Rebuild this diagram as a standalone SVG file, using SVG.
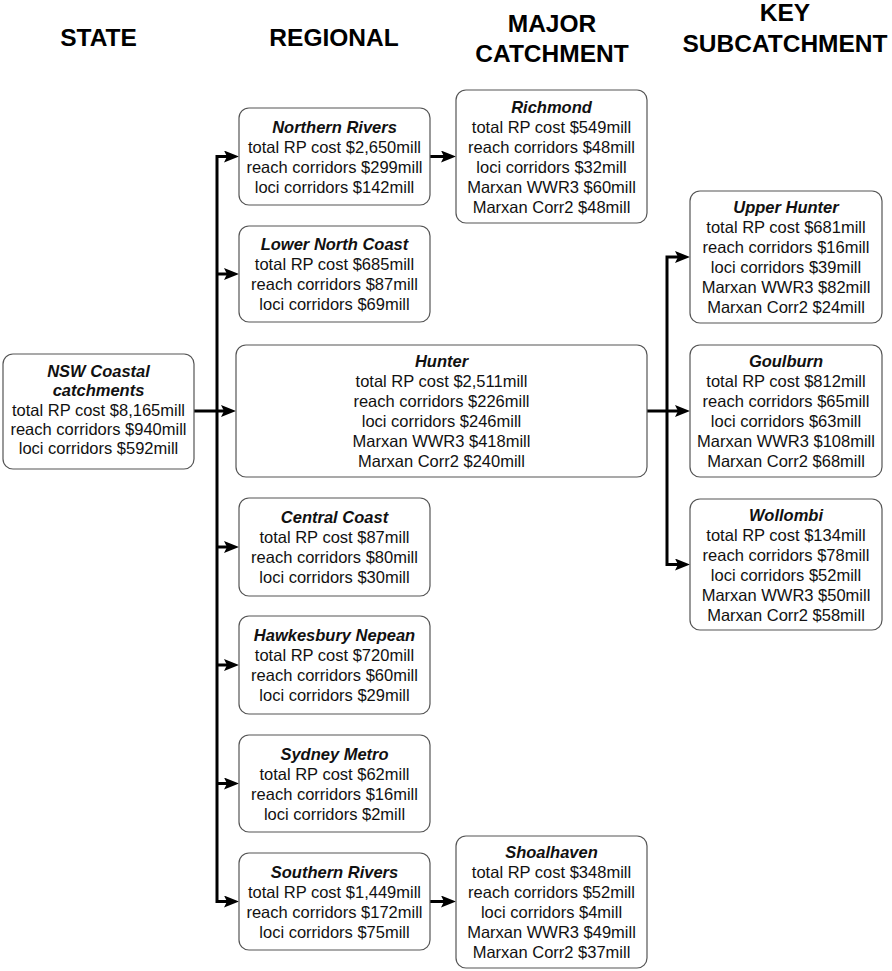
<svg xmlns="http://www.w3.org/2000/svg" width="892" height="971" viewBox="0 0 892 971">
<defs>
<marker id="arr" markerUnits="userSpaceOnUse" markerWidth="16" markerHeight="13" refX="3" refY="6" orient="auto">
<path d="M0,0 L15,6 L0,12 L3,6 z" fill="#000"/>
</marker>
<style>
.box{fill:#fff;stroke:#555;stroke-width:1.2}
text{font-family:"Liberation Sans",Arial,sans-serif;fill:#111;text-anchor:middle}
.t{font-size:16.5px}
.h{font-weight:bold;font-style:italic}
.hdr{font-size:24.5px;font-weight:bold;fill:#000}
.c{fill:none;stroke:#000;stroke-width:3;stroke-linejoin:miter}
</style>
</defs>
<rect width="892" height="971" fill="#fff"/>
<g id="headers">
<text class="hdr" x="98.5" y="46">STATE</text>
<text class="hdr" x="334" y="46">REGIONAL</text>
<text class="hdr" x="552" y="32">MAJOR</text>
<text class="hdr" x="552" y="62">CATCHMENT</text>
<text class="hdr" x="785" y="21">KEY</text>
<text class="hdr" x="785" y="52">SUBCATCHMENT</text>
</g>
<g id="connectors">
<path class="c" d="M194,411 H224" marker-end="url(#arr)"/>
<path class="c" d="M217,411 V156.5 H227" marker-end="url(#arr)"/>
<path class="c" d="M217,274 H227" marker-end="url(#arr)"/>
<path class="c" d="M217,547 H227" marker-end="url(#arr)"/>
<path class="c" d="M217,665 H227" marker-end="url(#arr)"/>
<path class="c" d="M217,783.5 H227" marker-end="url(#arr)"/>
<path class="c" d="M217,411 V901.5 H227" marker-end="url(#arr)"/>
<path class="c" d="M430,156.5 H444" marker-end="url(#arr)"/>
<path class="c" d="M430,901.5 H444" marker-end="url(#arr)"/>
<path class="c" d="M647,411 H678" marker-end="url(#arr)"/>
<path class="c" d="M667,411 V257 H678" marker-end="url(#arr)"/>
<path class="c" d="M667,411 V564.5 H678" marker-end="url(#arr)"/>
</g>
<g id="state">
<rect class="box" x="3" y="354" width="191" height="115" rx="10"/>
<text class="t h" x="98.5" y="377">NSW Coastal</text>
<text class="t h" x="98.5" y="396">catchments</text>
<text class="t" x="98.5" y="415.5">total RP cost $8,165mill</text>
<text class="t" x="98.5" y="434.5">reach corridors $940mill</text>
<text class="t" x="98.5" y="453.5">loci corridors $592mill</text>
</g>
<g id="northern-rivers">
<rect class="box" x="239" y="108" width="191" height="97" rx="10"/>
<text class="t h" x="334.5" y="132.5">Northern Rivers</text>
<text class="t" x="334.5" y="152.5">total RP cost $2,650mill</text>
<text class="t" x="334.5" y="172.5">reach corridors $299mill</text>
<text class="t" x="334.5" y="192.5">loci corridors $142mill</text>
</g>
<g id="lower-north-coast">
<rect class="box" x="239" y="226" width="191" height="96" rx="10"/>
<text class="t h" x="334.5" y="250">Lower North Coast</text>
<text class="t" x="334.5" y="270">total RP cost $685mill</text>
<text class="t" x="334.5" y="290">reach corridors $87mill</text>
<text class="t" x="334.5" y="310">loci corridors $69mill</text>
</g>
<g id="hunter">
<rect class="box" x="236" y="345" width="411" height="132" rx="10"/>
<text class="t h" x="441.5" y="367">Hunter</text>
<text class="t" x="441.5" y="387">total RP cost $2,511mill</text>
<text class="t" x="441.5" y="407">reach corridors $226mill</text>
<text class="t" x="441.5" y="427">loci corridors $246mill</text>
<text class="t" x="441.5" y="447">Marxan WWR3 $418mill</text>
<text class="t" x="441.5" y="467">Marxan Corr2 $240mill</text>
</g>
<g id="central-coast">
<rect class="box" x="239" y="498" width="191" height="98" rx="10"/>
<text class="t h" x="334.5" y="523">Central Coast</text>
<text class="t" x="334.5" y="543">total RP cost $87mill</text>
<text class="t" x="334.5" y="563">reach corridors $80mill</text>
<text class="t" x="334.5" y="583">loci corridors $30mill</text>
</g>
<g id="hawkesbury-nepean">
<rect class="box" x="239" y="616" width="191" height="98" rx="10"/>
<text class="t h" x="334.5" y="641">Hawkesbury Nepean</text>
<text class="t" x="334.5" y="661">total RP cost $720mill</text>
<text class="t" x="334.5" y="681">reach corridors $60mill</text>
<text class="t" x="334.5" y="701">loci corridors $29mill</text>
</g>
<g id="sydney-metro">
<rect class="box" x="239" y="735" width="191" height="97" rx="10"/>
<text class="t h" x="334.5" y="759.5">Sydney Metro</text>
<text class="t" x="334.5" y="779.5">total RP cost $62mill</text>
<text class="t" x="334.5" y="799.5">reach corridors $16mill</text>
<text class="t" x="334.5" y="819.5">loci corridors $2mill</text>
</g>
<g id="southern-rivers">
<rect class="box" x="239" y="853" width="191" height="97" rx="10"/>
<text class="t h" x="334.5" y="877.5">Southern Rivers</text>
<text class="t" x="334.5" y="897.5">total RP cost $1,449mill</text>
<text class="t" x="334.5" y="917.5">reach corridors $172mill</text>
<text class="t" x="334.5" y="937.5">loci corridors $75mill</text>
</g>
<g id="richmond">
<rect class="box" x="456" y="90" width="191" height="133" rx="10"/>
<text class="t h" x="551.5" y="112.5">Richmond</text>
<text class="t" x="551.5" y="132.5">total RP cost $549mill</text>
<text class="t" x="551.5" y="152.5">reach corridors $48mill</text>
<text class="t" x="551.5" y="172.5">loci corridors $32mill</text>
<text class="t" x="551.5" y="192.5">Marxan WWR3 $60mill</text>
<text class="t" x="551.5" y="212.5">Marxan Corr2 $48mill</text>
</g>
<g id="shoalhaven">
<rect class="box" x="456" y="836" width="191" height="132" rx="10"/>
<text class="t h" x="551.5" y="858">Shoalhaven</text>
<text class="t" x="551.5" y="878">total RP cost $348mill</text>
<text class="t" x="551.5" y="898">reach corridors $52mill</text>
<text class="t" x="551.5" y="918">loci corridors $4mill</text>
<text class="t" x="551.5" y="938">Marxan WWR3 $49mill</text>
<text class="t" x="551.5" y="958">Marxan Corr2 $37mill</text>
</g>
<g id="upper-hunter">
<rect class="box" x="690" y="191" width="192" height="132" rx="10"/>
<text class="t h" x="786" y="213">Upper Hunter</text>
<text class="t" x="786" y="233">total RP cost $681mill</text>
<text class="t" x="786" y="253">reach corridors $16mill</text>
<text class="t" x="786" y="273">loci corridors $39mill</text>
<text class="t" x="786" y="293">Marxan WWR3 $82mill</text>
<text class="t" x="786" y="313">Marxan Corr2 $24mill</text>
</g>
<g id="goulburn">
<rect class="box" x="690" y="345" width="192" height="132" rx="10"/>
<text class="t h" x="786" y="367">Goulburn</text>
<text class="t" x="786" y="387">total RP cost $812mill</text>
<text class="t" x="786" y="407">reach corridors $65mill</text>
<text class="t" x="786" y="427">loci corridors $63mill</text>
<text class="t" x="786" y="447">Marxan WWR3 $108mill</text>
<text class="t" x="786" y="467">Marxan Corr2 $68mill</text>
</g>
<g id="wollombi">
<rect class="box" x="690" y="499" width="192" height="131" rx="10"/>
<text class="t h" x="786" y="520.5">Wollombi</text>
<text class="t" x="786" y="540.5">total RP cost $134mill</text>
<text class="t" x="786" y="560.5">reach corridors $78mill</text>
<text class="t" x="786" y="580.5">loci corridors $52mill</text>
<text class="t" x="786" y="600.5">Marxan WWR3 $50mill</text>
<text class="t" x="786" y="620.5">Marxan Corr2 $58mill</text>
</g>
</svg>
